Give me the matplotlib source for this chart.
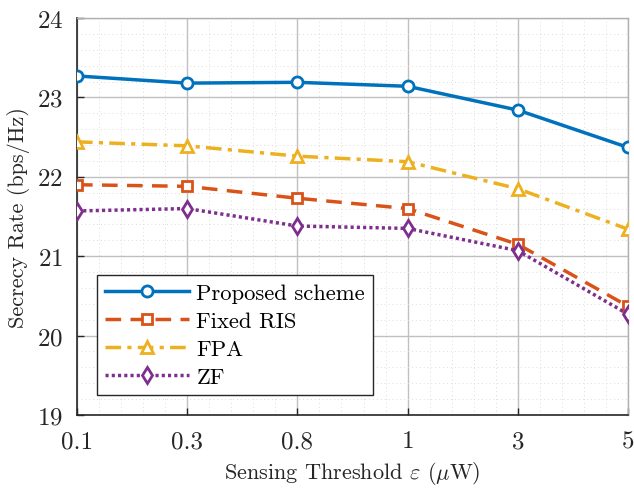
import matplotlib
matplotlib.use("Agg")
import matplotlib.pyplot as plt
from matplotlib.ticker import MultipleLocator
import numpy as np

plt.rcParams['font.family'] = 'cmr10'
plt.rcParams['mathtext.fontset'] = 'cm'
plt.rcParams['axes.formatter.use_mathtext'] = True

thresholds = ["0.1", "0.3", "0.8", "1", "3", "5"]
proposed = [23.27, 23.18, 23.19, 23.14, 22.84, 22.37]
fixed_ris = [21.90, 21.88, 21.73, 21.60, 21.15, 20.37]
fpa = [22.44, 22.39, 22.26, 22.19, 21.85, 21.34]
zf = [21.57, 21.60, 21.38, 21.35, 21.07, 20.27]

x = np.arange(len(thresholds))

fig = plt.figure(figsize=(6.34, 4.89), dpi=100)
ax = fig.add_axes([77 / 634, 1 - 416 / 489, 551 / 634, 397 / 489])

lw = 2.5
ms = 8
mew = 2.0
ax.plot(x, proposed, '-', color='#0072BD', lw=lw, marker='o', ms=ms, mew=mew,
        mfc='white', label='Proposed scheme', zorder=5)
ax.plot(x, fixed_ris, '--', color='#D95319', lw=lw, marker='s', ms=ms - 0.5, mew=mew,
        mfc='white', label='Fixed RIS', dashes=(4.5, 2.7), zorder=4)
ax.plot(x, fpa, '-.', color='#EDB120', lw=lw, marker='^', ms=ms + 0.5, mew=mew,
        mfc='white', label='FPA', dashes=(4.5, 1.8, 1.2, 1.8), zorder=4)
ax.plot(x, zf, ':', color='#7E2F8E', lw=lw, marker='d', ms=ms + 0.5, mew=mew,
        mfc='white', label='ZF', dashes=(0.9, 0.9), zorder=4)

ax.set_xlim(0, 5)
ax.set_ylim(19, 24)
ax.set_xticks(x)
ax.set_xticklabels(thresholds)
ax.set_yticks([19, 20, 21, 22, 23, 24])
ax.xaxis.set_minor_locator(MultipleLocator(0.2))
ax.yaxis.set_minor_locator(MultipleLocator(0.2))

ax.grid(True, which='major', color='#c0c0c0', lw=1.0)
ax.grid(True, which='minor', color='#dcdcdc', lw=0.7, linestyle=(0, (1, 3)))
ax.set_axisbelow(True)

ax.tick_params(which='major', direction='in', length=5, width=1, labelsize=18,
               colors='#262626', top=False, right=False)
ax.tick_params(axis='x', pad=11)
ax.tick_params(axis='y', pad=10)
ax.tick_params(which='minor', length=0)
for s in ['left', 'bottom']:
    ax.spines[s].set_color('#262626')
    ax.spines[s].set_linewidth(1.2)
for s in ['top', 'right']:
    ax.spines[s].set_color('#b0b0b0')
    ax.spines[s].set_linewidth(1.0)

ax.set_xlabel(r'Sensing Threshold $\varepsilon$ ($\mu$W)', fontsize=16, color='#262626', labelpad=5)
ax.set_ylabel('Secrecy Rate (bps/Hz)', fontsize=16, color='#262626', labelpad=5)

leg = ax.legend(loc='lower left', bbox_to_anchor=(0.036, 0.05), fontsize=16.3,
                handlelength=3.7, handletextpad=0.35, labelspacing=0.36,
                borderpad=0.35, borderaxespad=0, fancybox=False, framealpha=1,
                edgecolor='#262626')
leg.get_frame().set_linewidth(1.0)

fig.savefig('out.png', dpi=100)
